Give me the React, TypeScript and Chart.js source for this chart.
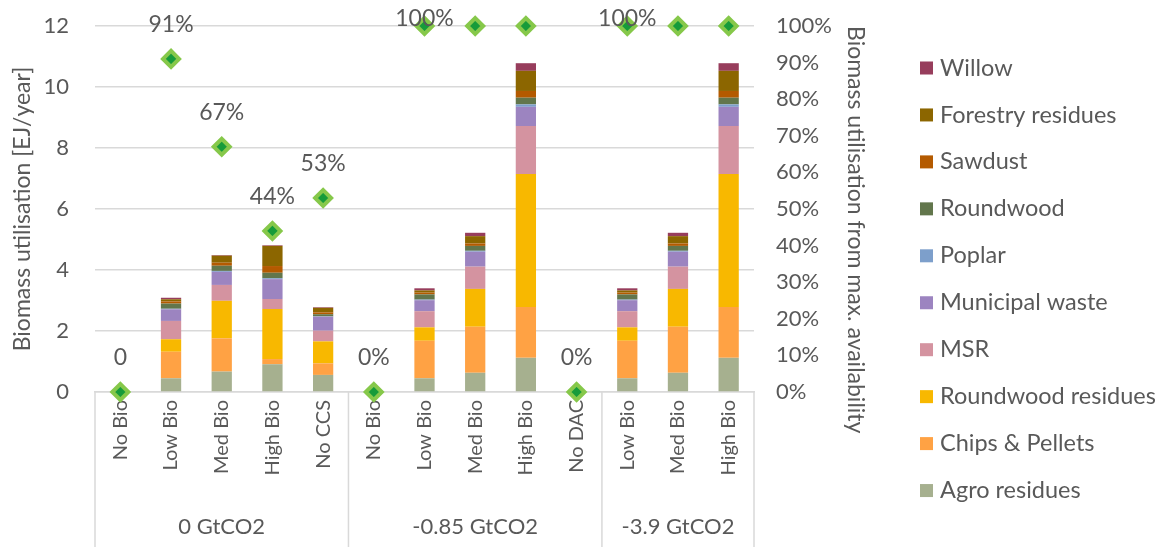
import React, { useEffect, useRef } from 'react';
import { Chart, registerables } from 'chart.js';

Chart.register(...registerables);

// ---------- data ----------
const categories = ['No Bio', 'Low Bio', 'Med Bio', 'High Bio', 'No CCS', 'No Bio', 'Low Bio', 'Med Bio', 'High Bio', 'No DAC', 'Low Bio', 'Med Bio', 'High Bio'];
const groups = ['0 GtCO2', '-0.85 GtCO2', '-3.9 GtCO2'];
const groupSizes = [5, 5, 3];

const agroResidues = [0, 0.45, 0.67, 0.91, 0.56, 0, 0.45, 0.63, 1.12, 0, 0.45, 0.63, 1.12];
const chipsPellets = [0, 0.87, 1.09, 0.17, 0.38, 0, 1.23, 1.51, 1.67, 0, 1.23, 1.51, 1.67];
const roundwoodResidues = [0, 0.41, 1.23, 1.64, 0.72, 0, 0.44, 1.24, 4.36, 0, 0.44, 1.24, 4.36];
const msr = [0, 0.6, 0.52, 0.33, 0.35, 0, 0.53, 0.73, 1.57, 0, 0.53, 0.73, 1.57];
const municipalWaste = [0, 0.38, 0.43, 0.65, 0.46, 0, 0.36, 0.49, 0.63, 0, 0.36, 0.49, 0.63];
const poplar = [0, 0.02, 0.03, 0.03, 0.01, 0, 0.02, 0.03, 0.08, 0, 0.02, 0.03, 0.08];
const roundwood = [0, 0.17, 0.17, 0.18, 0.07, 0, 0.17, 0.16, 0.22, 0, 0.17, 0.16, 0.22];
const sawdust = [0, 0.07, 0.1, 0.22, 0.06, 0, 0.06, 0.08, 0.22, 0, 0.06, 0.08, 0.22];
const forestryResidues = [0, 0.07, 0.23, 0.66, 0.15, 0, 0.07, 0.24, 0.66, 0, 0.07, 0.24, 0.66];
const willow = [0, 0.05, 0.02, 0.02, 0.02, 0, 0.07, 0.11, 0.25, 0, 0.07, 0.11, 0.25];

const utilisation = [0, 91, 67, 44, 53, 0, 100, 100, 100, 0, 100, 100, 100];
const utilisationLabels = ['0', '91%', '67%', '44%', '53%', '0%', '100%', '', '', '0%', '100%', '', ''];

const leftAxisTitle = 'Biomass utilisation [EJ/year]';
const rightAxisTitle = 'Biomass utilisation from max. availability';

// ---------- styles ----------
const FONT = 'Lato, "Open Sans", sans-serif';
const TEXT = '#595959';
const GRID = '#D9D9D9';
const RIGHT_AXIS_W = 142;

const series = [
  { label: 'Agro residues', data: agroResidues, color: '#A6B08F' },
  { label: 'Chips & Pellets', data: chipsPellets, color: '#FFA244' },
  { label: 'Roundwood residues', data: roundwoodResidues, color: '#F8B800' },
  { label: 'MSR', data: msr, color: '#D493A0' },
  { label: 'Municipal waste', data: municipalWaste, color: '#9C84C0' },
  { label: 'Poplar', data: poplar, color: '#7D9FCB' },
  { label: 'Roundwood', data: roundwood, color: '#62764C' },
  { label: 'Sawdust', data: sawdust, color: '#B45A00' },
  { label: 'Forestry residues', data: forestryResidues, color: '#8C6600' },
  { label: 'Willow', data: willow, color: '#973D5C' },
];

const groupAxisPlugin = {
  id: 'groupAxis',
  afterDraw(chart: any) {
    const { ctx, chartArea } = chart;
    const x = chart.scales.x;
    const bottom = chart.height;
    ctx.save();
    ctx.strokeStyle = GRID;
    ctx.lineWidth = 1.5;
    ctx.fillStyle = TEXT;
    ctx.font = `22px ${FONT}`;
    ctx.textAlign = 'center';
    ctx.textBaseline = 'middle';
    const edges: number[] = [chartArea.left];
    let start = 0;
    groupSizes.forEach((n, gi) => {
      const end = start + n - 1;
      const x0 = x.getPixelForValue(start);
      const x1 = x.getPixelForValue(end);
      const right = end < categories.length - 1 ? (x1 + x.getPixelForValue(end + 1)) / 2 : chartArea.right;
      edges.push(right);
      ctx.fillText(groups[gi], (x0 + x1) / 2, 527);
      start += n;
    });
    edges.forEach((e) => {
      ctx.beginPath();
      ctx.moveTo(e, chartArea.bottom);
      ctx.lineTo(e, bottom);
      ctx.stroke();
    });
    ctx.restore();
  },
};

const pointLabelPlugin = {
  id: 'pointLabels',
  afterDatasetsDraw(chart: any) {
    const idx = chart.data.datasets.length - 1;
    const meta = chart.getDatasetMeta(idx);
    const { ctx } = chart;
    ctx.save();
    ctx.fillStyle = TEXT;
    ctx.font = `23px ${FONT}`;
    ctx.textAlign = 'center';
    ctx.textBaseline = 'middle';
    meta.data.forEach((p: any, i: number) => {
      const t = utilisationLabels[i];
      if (!t) return;
      ctx.fillText(t, p.x, Math.max(p.y - 34, 19));
    });
    ctx.restore();
  },
};

const sideLegendPlugin = {
  id: 'sideLegend',
  afterDraw(chart: any) {
    const { ctx, chartArea } = chart;
    const boxX = chartArea.right + RIGHT_AXIS_W + 24;
    const items = chart.data.datasets
      .filter((d: any) => d.type === 'bar')
      .slice()
      .reverse();
    ctx.save();
    ctx.font = `23.5px ${FONT}`;
    ctx.textBaseline = 'middle';
    ctx.textAlign = 'left';
    items.forEach((d: any, i: number) => {
      const cy = 68 + i * 46.95;
      ctx.fillStyle = d.backgroundColor;
      ctx.fillRect(boxX, cy - 6.5, 13, 13);
      ctx.fillStyle = TEXT;
      ctx.fillText(d.label, boxX + 20, cy);
    });
    ctx.restore();
  },
};

export default function App() {
  const ref = useRef<HTMLCanvasElement | null>(null);

  useEffect(() => {
    if (!ref.current) return;
    const datasets: any[] = series.map((s) => ({
      type: 'bar',
      label: s.label,
      data: s.data,
      backgroundColor: s.color,
      borderWidth: 0,
      yAxisID: 'y',
      stack: 'bio',
      order: 1,
      barPercentage: 0.4,
      categoryPercentage: 1,
    }));
    datasets.push({
      type: 'line',
      label: 'Utilisation',
      data: utilisation,
      yAxisID: 'y2',
      showLine: false,
      pointStyle: 'rectRot',
      pointRadius: 8,
      pointHoverRadius: 8,
      pointBorderWidth: 4,
      pointBackgroundColor: '#169B3A',
      pointBorderColor: '#86C84A',
      order: 0,
      clip: false,
    });

    const chart = new Chart(ref.current, {
      type: 'bar',
      data: { labels: categories, datasets },
      options: {
        animation: false,
        responsive: false,
        maintainAspectRatio: false,
        layout: { padding: { top: 26, right: 273, left: 0, bottom: 0 } },
        plugins: {
          tooltip: { enabled: false },
          legend: { display: false },
        },
        scales: {
          x: {
            stacked: true,
            offset: true,
            grid: { display: false, drawTicks: false },
            border: { display: true, color: GRID, width: 1.5 },
            ticks: {
              autoSkip: false,
              maxRotation: 90,
              minRotation: 90,
              padding: 8,
              color: TEXT,
              font: { family: FONT, size: 20 },
            },
            afterFit: (s: any) => {
              s.height = 155;
            },
          },
          y: {
            stacked: true,
            min: 0,
            max: 12,
            ticks: { stepSize: 2, padding: 0, color: TEXT, font: { family: FONT, size: 22 } },
            grid: { color: GRID, lineWidth: 1.5, drawTicks: true, tickLength: 26, tickColor: 'rgba(0,0,0,0)' },
            border: { display: false },
            title: {
              display: true,
              text: leftAxisTitle,
              color: TEXT,
              font: { family: FONT, size: 23 },
              padding: { top: 9, bottom: 0 },
            },
            afterFit: (s: any) => {
              s.width = 95;
            },
          },
          y2: {
            position: 'right',
            min: 0,
            max: 100,
            grid: { display: true, drawOnChartArea: false, drawTicks: true, tickLength: 22, tickColor: 'rgba(0,0,0,0)' },
            border: { display: false },
            ticks: {
              stepSize: 10,
              padding: 0,
              color: TEXT,
              font: { family: FONT, size: 22 },
              callback: (v: any) => `${v}%`,
            },
            title: {
              display: true,
              text: rightAxisTitle,
              align: 'end',
              color: TEXT,
              font: { family: FONT, size: 23 },
              padding: { top: 27, bottom: 0 },
            },
            afterFit: (s: any) => {
              s.width = RIGHT_AXIS_W;
            },
          },
        },
      },
      plugins: [groupAxisPlugin, pointLabelPlugin, sideLegendPlugin],
    } as any);
    return () => chart.destroy();
  }, []);

  return (
    <div style={{ position: 'absolute', left: 0, top: 0, width: 1169, height: 547, background: '#fff' }}>
      <canvas ref={ref} width={1169} height={547} style={{ width: 1169, height: 547 }} />
    </div>
  );
}
